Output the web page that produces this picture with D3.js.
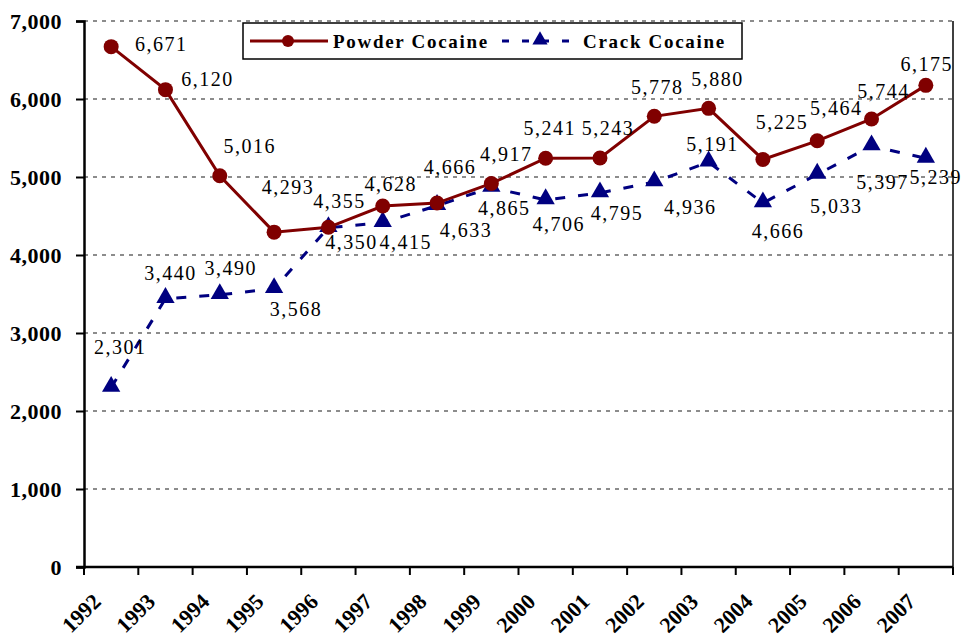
<!DOCTYPE html>
<html>
<head>
<meta charset="utf-8">
<script src="https://cdn.jsdelivr.net/npm/d3@7"></script>
<style>
  body { margin: 0; background: #fff; }
  text { font-family: "Liberation Serif", "Times New Roman", serif; }
</style>
</head>
<body>
<svg id="chart" width="962" height="639"></svg>
<script>
// data
var years = ["1992","1993","1994","1995","1996","1997","1998","1999",
             "2000","2001","2002","2003","2004","2005","2006","2007"];
var powder = [6671, 6120, 5016, 4293, 4355, 4628, 4666, 4917,
              5241, 5243, 5778, 5880, 5225, 5464, 5744, 6175];
var crack = [2301, 3440, 3490, 3568, 4350, 4415, 4633, 4865,
             4706, 4795, 4936, 5191, 4666, 5033, 5397, 5239];
var yTicks = [0, 1000, 2000, 3000, 4000, 5000, 6000, 7000];

// label placement (pixel offsets of label centre from the point)
var powderLabelOff = [[50,-3],[42,-11],[30,-30],[14,-45],[11,-26],[8,-22],[13,-36],[15,-29],
                      [4,-30],[8,-30],[3,-29],[9,-29],[19,-37],[19,-33],[12,-28],[1,-21]];
var crackLabelOff = [[9,-41],[5,-26],[11,-27],[22,20],[23,14],[23,19],[29,24],[13,20],
                     [13,24],[17,20],[36,25],[4,-18],[15,28],[19,32],[11,36],[10,19]];

(function() {
var svg = d3.select("#chart");
var left = 84, right = 953, plotTop = 21, plotBottom = 567;

var x = d3.scaleBand().domain(years).range([left, right]).padding(0);
var y = d3.scaleLinear().domain([0, 7000]).range([plotBottom, plotTop]);
var fmt = d3.format(",");
var cx = function(d, i) { return x(years[i]) + x.bandwidth() / 2; };

var red = "#800000", navy = "#000080";

// grid
svg.append("g").selectAll("line")
    .data(yTicks.filter(function(d) { return d > 0; }))
    .enter().append("line")
    .attr("x1", left).attr("x2", right)
    .attr("y1", function(d) { return y(d); })
    .attr("y2", function(d) { return y(d); })
    .attr("stroke", "#8c8c8c")
    .attr("stroke-width", 2)
    .attr("stroke-dasharray", "4,5");

// right border
svg.append("line")
    .attr("x1", right).attr("x2", right).attr("y1", plotTop).attr("y2", plotBottom)
    .attr("stroke", "#000").attr("stroke-width", 1.5);

// y axis
var yAxis = svg.append("g")
    .attr("transform", "translate(" + left + ",0)")
    .call(d3.axisLeft(y).tickValues(yTicks).tickFormat(fmt).tickSize(8).tickPadding(14));
yAxis.select(".domain").attr("stroke-width", 2.5);
yAxis.selectAll(".tick line").attr("stroke-width", 2);
yAxis.selectAll("text")
    .attr("font-size", 22)
    .attr("font-weight", "bold")
    .attr("letter-spacing", 0.5)
    .attr("fill", "#000");

// x axis with ticks at the category boundaries
svg.append("line")
    .attr("x1", left - 8).attr("x2", right).attr("y1", plotBottom).attr("y2", plotBottom)
    .attr("stroke", "#000").attr("stroke-width", 2.5);
var bounds = years.map(function(d) { return x(d); }).concat([right]);
svg.append("g").selectAll("line")
    .data(bounds).enter().append("line")
    .attr("x1", function(d) { return d; }).attr("x2", function(d) { return d; })
    .attr("y1", plotBottom).attr("y2", plotBottom + 8)
    .attr("stroke", "#000").attr("stroke-width", 2);

svg.append("g").selectAll("text")
    .data(years).enter().append("text")
    .attr("transform", function(d, i) {
        return "translate(" + (cx(d, i) - 9) + "," + (plotBottom + 36) + ") rotate(-45)";
    })
    .attr("text-anchor", "end")
    .attr("font-size", 22)
    .attr("font-weight", "bold")
    .text(function(d) { return d; });

// lines
var line = function(vals) {
    return d3.line()
        .x(function(d, i) { return cx(d, i); })
        .y(function(d) { return y(d); })(vals);
};

svg.append("path")
    .attr("d", line(crack))
    .attr("fill", "none")
    .attr("stroke", navy)
    .attr("stroke-width", 3)
    .attr("stroke-dasharray", "10,13");

svg.append("path")
    .attr("d", line(powder))
    .attr("fill", "none")
    .attr("stroke", red)
    .attr("stroke-width", 3);

var tri = d3.symbol().type(d3.symbolTriangle).size(145);

svg.append("g").selectAll("path")
    .data(crack).enter().append("path")
    .attr("d", tri)
    .attr("transform", function(d, i) { return "translate(" + cx(d, i) + "," + (y(d) - 1) + ")"; })
    .attr("fill", navy);

svg.append("g").selectAll("circle")
    .data(powder).enter().append("circle")
    .attr("cx", cx)
    .attr("cy", function(d) { return y(d); })
    .attr("r", 7.5)
    .attr("fill", red);

// data labels
function labels(vals, offs) {
    svg.append("g").selectAll("text")
        .data(vals).enter().append("text")
        .attr("x", function(d, i) { return cx(d, i) + offs[i][0]; })
        .attr("y", function(d, i) { return y(d) + offs[i][1]; })
        .attr("dy", "0.35em")
        .attr("text-anchor", "middle")
        .attr("font-size", 20)
        .attr("letter-spacing", 1.5)
        .attr("fill", "#000")
        .text(function(d) { return fmt(d); });
}
labels(powder, powderLabelOff);
labels(crack, crackLabelOff);

// legend
var lg = svg.append("g");
lg.append("rect")
    .attr("x", 243).attr("y", 23).attr("width", 499).attr("height", 36)
    .attr("fill", "#fff").attr("stroke", "#000").attr("stroke-width", 1.5);
lg.append("line")
    .attr("x1", 250).attr("x2", 328).attr("y1", 41).attr("y2", 41)
    .attr("stroke", red).attr("stroke-width", 3);
lg.append("circle").attr("cx", 288).attr("cy", 41).attr("r", 6).attr("fill", red);
lg.append("text")
    .attr("x", 333).attr("y", 48)
    .attr("font-size", 19).attr("font-weight", "bold").attr("letter-spacing", 1.7)
    .text("Powder Cocaine");
lg.append("line")
    .attr("x1", 502).attr("x2", 578).attr("y1", 41).attr("y2", 41)
    .attr("stroke", navy).attr("stroke-width", 3)
    .attr("stroke-dasharray", "7,13");
lg.append("path")
    .attr("d", d3.symbol().type(d3.symbolTriangle).size(100))
    .attr("transform", "translate(540,40)")
    .attr("fill", navy);
lg.append("text")
    .attr("x", 583).attr("y", 48)
    .attr("font-size", 19).attr("font-weight", "bold").attr("letter-spacing", 1.7)
    .text("Crack Cocaine");
})();
</script>
</body>
</html>
